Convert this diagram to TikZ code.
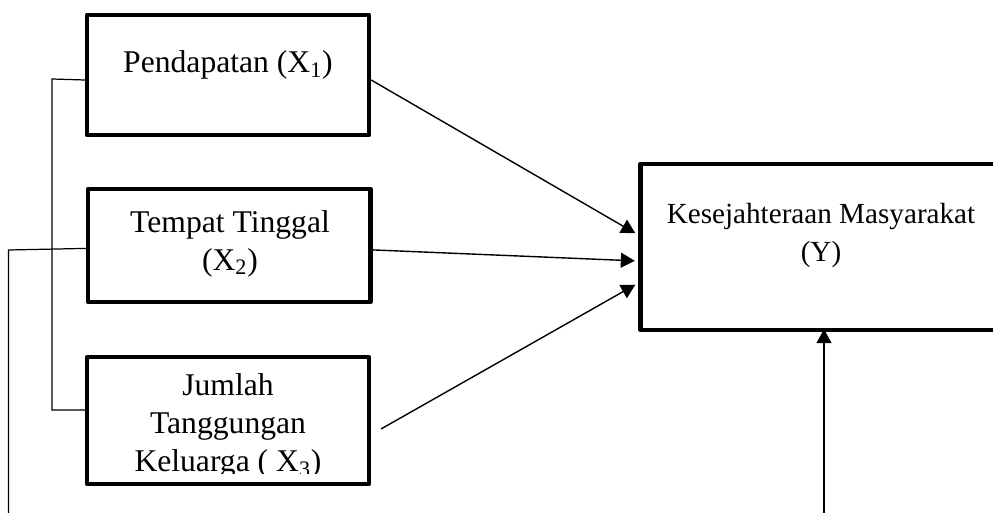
\documentclass[tikz,border=0pt]{standalone}
\usepackage{fontspec}
\setmainfont{Liberation Serif}
\usetikzlibrary{arrows.meta}

\begin{document}
\begin{tikzpicture}[x = 0.02cm, y = -0.02cm,
		box/.style = {draw, rectangle, line width = 2.5pt, line join = round, inner sep = 0pt},
		txt/.style = {align = center, anchor = base, font = \fontsize{18}{21.5}\selectfont},
		link/.style = {line width = 0.7pt},
		arr/.style = {line width = 0.8pt, -{Triangle[length = 0.28cm, width = 0.3cm]}}]
		\path[use as bounding box, clip] (0, 0) rectangle (993, 513);
		%%%%%%%%%%%%%
		\node[box, minimum width = 5.64cm, minimum height = 2.41cm] (x1) at (228, 75) {};
		\node[box, minimum width = 5.65cm, minimum height = 2.26cm] (x2) at (229.2, 245.4) {};
		\node[box, minimum width = 5.64cm, minimum height = 2.54cm] (x3) at (228, 420.4) {};
		\node[box, minimum width = 8cm, minimum height = 3.32cm] (y) at (840.5, 247) {};
		%%%%%%%%%%%%%
		% base anchor sits on the last line
		\node[txt] (t1) at (228, 73) {Pendapatan (X\textsubscript{1})};
		\node[txt] (t2) at (230, 270) {Tempat Tinggal\\(X\textsubscript{2})};
		\begin{scope}
			\clip (87, 357) rectangle (369, 473.5);
			\node[txt] (t3) at (228, 471.5) {Jumlah\\Tanggungan\\Keluarga ( X\textsubscript{3})};
		\end{scope}
		\node[txt, font = \fontsize{16.6}{21.8}\selectfont] (ty) at (821, 261.7) {Kesejahteraan Masyarakat\\(Y)};
		%%%%%%%%%%%%%
		\coordinate (c1) at (52, 79);
		\coordinate (c2) at (52, 410);
		\coordinate (c3) at (8.5, 250);
		\coordinate (c4) at (8.5, 520);
		\coordinate (c5) at (824, 520);
		\draw[link] ([yshift = -0.1cm]x1.west) -- (c1) -- (c2) -- ([yshift = 0.21cm]x3.west);
		\draw[link] ([yshift = -0.06cm]x2.west) -- (c3) -- (c4);
		%%%%%%%%%%%%%%%%%%%%%%
		\draw[arr, shorten >= 2pt] ([yshift = -0.1cm]x1.east) to ([yshift = 0.24cm]y.west);
		\draw[arr, shorten >= 2pt] ([yshift = -0.09cm]x2.east) to ([yshift = -0.28cm]y.west);
		\draw[arr, shorten >= 2pt] ([shift = {(0.2cm, -0.17cm)}]x3.east) to ([yshift = -0.72cm]y.west);
		\draw[arr, shorten >= -1.7pt] (c5) to (c5 |- y.south);
\end{tikzpicture}
\end{document}
